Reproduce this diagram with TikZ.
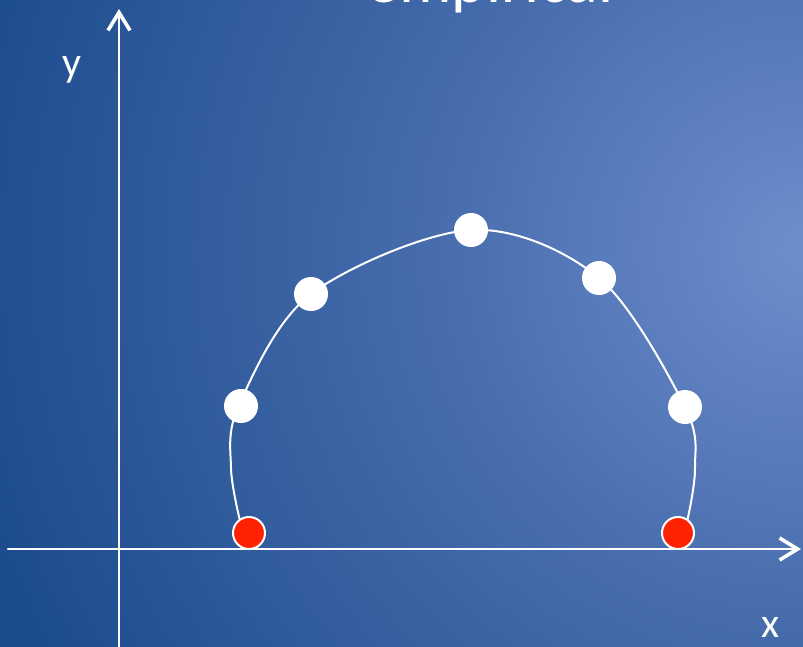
\documentclass[tikz,border=0pt]{standalone}
\usepackage{fontspec}
\setmainfont{Carlito}
\usetikzlibrary{arrows.meta}
\definecolor{bgdark}{RGB}{29,76,142}
\definecolor{bgmid}{RGB}{70,108,172}
\definecolor{bglight}{RGB}{110,141,205}
\definecolor{dotred}{RGB}{255,34,0}
\pgfdeclareradialshading{bgglow}{\pgfpoint{0bp}{0bp}}{color(0bp)=(bglight); color(11bp)=(bgmid); color(25bp)=(bgdark); color(50bp)=(bgdark)}
\begin{document}
\begin{tikzpicture}[x=1bp, y=-1bp, line join=round, line cap=round,
		>={Straight Barb[length=18bp,width=22bp,line width=3.6bp]},
		dot/.style={circle, draw=white, line width=2bp, inner sep=0pt, minimum size=32bp},
		lbl/.style={text=white, font=\fontsize{42}{44}\selectfont, inner sep=0pt, anchor=base}]
	
	\useasboundingbox (0,0) rectangle (803,647);
	\clip (0,0) rectangle (803,647);
	\fill[bgdark] (0,0) rectangle (803,647);
	\shade[shading=bgglow] (803,250) circle (850bp);
	
	% measured points
	\coordinate (ra) at (241,525);
	\coordinate (la) at (231,468);
	\coordinate (pa) at (239,405);
	\coordinate (pb) at (311,294);
	\coordinate (pc) at (471,230);
	\coordinate (pd) at (599,278);
	\coordinate (pe) at (685,407);
	\coordinate (le) at (695,468);
	\coordinate (re) at (687,522);
	
	\coordinate (xs) at (8,549);
	\coordinate (xe) at (801,549);
	\coordinate (ys) at (119,647);
	\coordinate (ye) at (119,9);
	
	\draw[->, white, line width=2.3bp] (xs) -- (xe);
	\draw[->, white, line width=2.3bp] (ys) -- (ye);
	
	\draw[white, line width=2bp] plot[smooth, tension=0.55]
	coordinates {(ra) (la) (pa) (pb) (pc) (pd) (pe) (le) (re)};
	
	\node[dot, fill=white] (wa) at (241,406) {};
	\node[dot, fill=white] (wb) at (pb) {};
	\node[dot, fill=white] (wc) at (pc) {};
	\node[dot, fill=white] (wd) at (pd) {};
	\node[dot, fill=white] (we) at (pe) {};
	\node[dot, fill=dotred] (da) at (249,533) {};
	\node[dot, fill=dotred] (db) at (678,533) {};
	
	\node[lbl] (ylab) at (72,77) {y};
	\node[lbl] (xlab) at (771,637) {x};
	\node[lbl, font=\fontsize{66}{70}\selectfont] (title) at (490,3) {empirical};
\end{tikzpicture}
\end{document}
